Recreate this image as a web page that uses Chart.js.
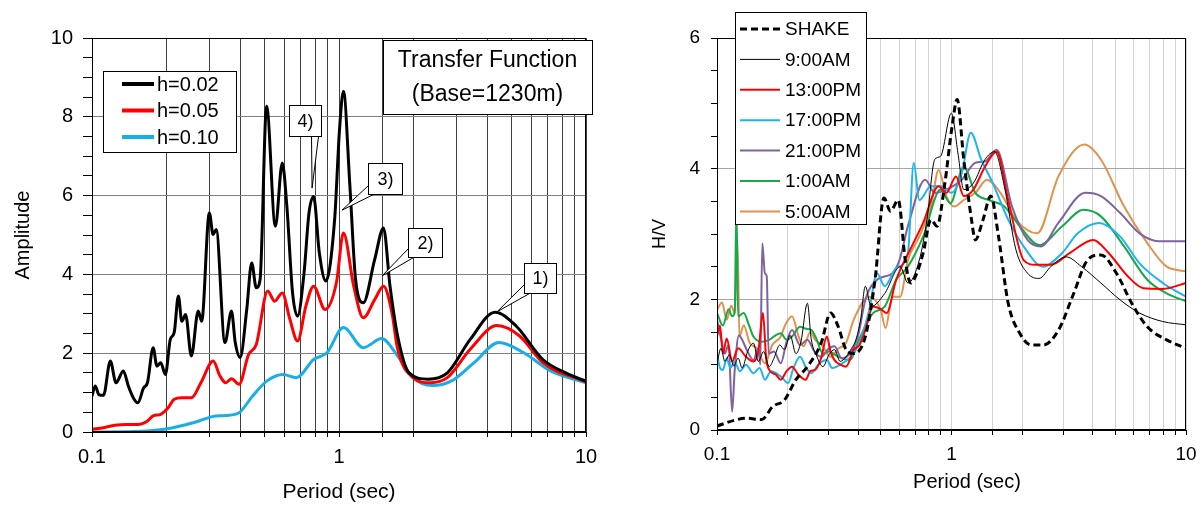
<!DOCTYPE html>
<html>
<head>
<meta charset="utf-8">
<script src="https://cdn.jsdelivr.net/npm/chart.js@4.4.1/dist/chart.umd.min.js"></script>
<style>
  html, body { margin: 0; padding: 0; background: #fff; }
  #wrap { position: relative; width: 1203px; height: 505px; }
  canvas { position: absolute; top: 0; }
  #tf { left: 0; }
  #hv { left: 600px; }
</style>
</head>
<body>
<div id="wrap">
  <canvas id="tf" width="600" height="505"></canvas>
  <canvas id="hv" width="603" height="505"></canvas>
</div>
<script>
// ---- Transfer function (left) ----
const tfPeriod002 = [0.1,0.103,0.1066,0.1113,0.1186,0.1251,0.1339,0.1403,0.1469,0.1533,0.1618,0.1677,0.1768,0.1832,0.1898,0.1982,0.2075,0.2151,0.2237,0.231,0.2393,0.2525,0.2692,0.278,0.2985,0.3093,0.3182,0.3454,0.367,0.3802,0.3982,0.4231,0.4431,0.4624,0.4792,0.5091,0.5527,0.5892,0.615,0.6486,0.6796,0.722,0.756,0.7891,0.8323,0.8844,0.96,1.005,1.042,1.107,1.167,1.254,1.395,1.514,1.609,1.728,1.922,2.297,2.745,3.399,4.284,5.213,6.688,8.28,10];
const tfAmp002 = [0.91,1.17,0.95,0.93,1.80,1.25,1.55,1.17,0.87,0.74,1.12,1.25,2.14,1.67,1.76,1.46,2.35,2.52,3.45,2.81,2.98,1.93,3.07,2.81,5.56,5.01,5.14,2.27,3.07,2.27,1.89,3.11,4.29,3.66,3.87,8.27,5.22,6.83,5.73,3.53,2.94,4.04,5.56,5.98,4.55,3.83,5.39,7.68,8.65,6.24,3.87,3.28,4.38,5.18,3.70,2.43,1.50,1.34,1.50,2.35,3.04,2.69,1.84,1.50,1.29];

const tfPeriod005 = [0.1,0.1113,0.1238,0.1378,0.1533,0.1677,0.1768,0.1898,0.2038,0.2151,0.231,0.2525,0.276,0.3093,0.3298,0.3478,0.367,0.3939,0.4306,0.4624,0.5145,0.5488,0.5892,0.6326,0.6796,0.7349,0.7891,0.8781,0.977,1.042,1.147,1.254,1.395,1.514,1.638,1.728,1.993,2.338,2.745,3.399,4.362,5.40,6.688,10];
const tfAmp005 = [0.07,0.11,0.17,0.19,0.19,0.28,0.41,0.45,0.62,0.83,0.87,0.87,1.25,1.80,1.42,1.25,1.35,1.21,1.97,2.22,3.58,3.32,3.53,2.86,2.31,3.20,3.70,3.11,3.80,5.05,3.70,2.90,3.36,3.70,3.03,2.10,1.38,1.25,1.38,2.10,2.70,2.43,1.76,1.27];

const tfPeriod010 = [0.1,0.148,0.1967,0.2351,0.2711,0.307,0.3478,0.3939,0.4463,0.5145,0.5934,0.6722,0.7891,0.8939,1.042,1.254,1.488,1.728,1.993,2.381,2.844,3.523,4.44,5.598,7.18,10];
const tfAmp010 = [0.0,0.01,0.07,0.17,0.28,0.39,0.42,0.49,0.91,1.31,1.46,1.38,1.84,2.01,2.65,2.14,2.37,1.93,1.38,1.18,1.29,1.76,2.27,2.01,1.55,1.25];

// ---- H/V spectral ratio (right) ----
const hvPeriodShake = [0.1,0.119,0.133,0.155,0.173,0.194,0.217,0.243,0.278,0.305,0.329,0.355,0.383,0.429,0.472,0.515,0.549,0.593,0.635,0.67,0.72,0.757,0.817,0.868,0.933,1.006,1.057,1.128,1.217,1.264,1.363,1.471,1.587,1.745,1.955,2.19,2.46,2.86,3.32,3.80,4.34,5.05,5.87,6.84,8.27,10];
const hvShake = [0.06,0.15,0.18,0.16,0.36,0.46,0.77,0.97,1.33,1.79,1.58,1.23,1.17,1.43,2.30,3.55,3.35,3.52,2.60,2.25,2.45,2.71,3.22,3.12,3.73,4.65,5.06,4.14,3.22,2.91,3.22,3.58,2.96,1.94,1.48,1.30,1.30,1.53,2.09,2.60,2.68,2.40,1.94,1.58,1.38,1.25];

const hvPeriod0900 = [0.1,0.104,0.108,0.113,0.118,0.123,0.128,0.135,0.143,0.15,0.158,0.167,0.175,0.185,0.194,0.205,0.217,0.228,0.243,0.252,0.265,0.283,0.30,0.317,0.335,0.355,0.375,0.391,0.41,0.429,0.454,0.519,0.604,0.652,0.729,0.786,0.848,0.898,0.999,1.065,1.128,1.240,1.389,1.528,1.680,1.882,2.110,2.365,2.651,3.081,3.587,4.336,5.242,6.339,7.960,10];
const hv0900 = [1.02,1.25,1.05,1.15,0.98,1.10,0.95,1.20,1.33,1.05,1.20,0.97,1.10,1.30,1.23,1.45,1.17,1.35,1.94,1.40,1.15,0.97,1.15,1.23,1.05,1.12,1.25,1.38,1.70,2.20,1.89,2.09,2.50,2.25,2.60,3.22,4.14,4.19,4.85,4.24,3.68,3.78,4.14,4.26,3.73,2.76,2.40,2.32,2.50,2.65,2.50,2.25,1.99,1.79,1.66,1.61];

const hvPeriod1300 = [0.1,0.103,0.106,0.11,0.116,0.123,0.133,0.143,0.150,0.157,0.162,0.167,0.178,0.187,0.198,0.209,0.222,0.239,0.25,0.262,0.278,0.294,0.305,0.317,0.335,0.355,0.383,0.405,0.429,0.463,0.50,0.529,0.581,0.677,0.757,0.881,0.951,1.045,1.128,1.240,1.389,1.557,1.745,2.031,2.276,2.651,3.20,4.019,4.678,5.656,6.584,7.960,10];
const hv1300 = [1.43,1.60,1.17,1.40,1.05,1.25,1.12,1.05,1.20,1.79,1.10,0.92,0.85,0.77,0.90,0.97,0.85,0.77,0.90,0.92,1.10,1.43,1.20,1.07,1.00,0.97,1.23,1.30,1.53,1.89,1.85,1.79,2.30,2.81,3.17,3.73,3.63,3.88,3.58,3.68,4.03,4.26,3.52,2.60,2.53,2.53,2.71,2.91,2.71,2.35,2.17,2.16,2.25];

const hvPeriod1700 = [0.1,0.103,0.106,0.11,0.114,0.119,0.125,0.133,0.143,0.152,0.160,0.170,0.187,0.201,0.212,0.226,0.24,0.253,0.27,0.294,0.31,0.342,0.383,0.415,0.446,0.481,0.519,0.581,0.652,0.690,0.729,0.817,0.915,0.999,1.106,1.208,1.338,1.499,1.745,2.031,2.456,2.966,3.453,4.254,5.242,6.339,7.960,10];
const hv1700 = [1.17,0.95,0.92,1.10,0.95,1.05,0.90,1.00,0.87,0.95,0.77,0.90,0.82,0.72,0.95,1.12,0.95,0.87,1.00,1.07,0.95,1.02,1.17,1.45,1.84,2.40,2.20,2.48,2.71,4.09,3.52,3.73,3.73,3.63,3.93,4.55,4.14,3.78,3.22,2.81,2.50,2.71,3.01,3.17,2.96,2.55,2.25,2.04];

const hvPeriod2100 = [0.1,0.104,0.108,0.112,0.116,0.119,0.124,0.128,0.135,0.143,0.150,0.153,0.156,0.160,0.163,0.166,0.175,0.187,0.198,0.209,0.226,0.243,0.26,0.278,0.30,0.317,0.34,0.369,0.40,0.429,0.481,0.56,0.60,0.652,0.772,0.848,0.951,1.106,1.264,1.389,1.557,1.812,2.110,2.410,2.856,3.725,4.336,5.242,6.339,7.664,10];
const hv2100 = [1.69,1.40,1.17,1.30,0.28,0.92,1.45,1.38,1.20,1.07,1.25,1.00,2.86,2.40,2.35,1.17,1.20,1.02,1.35,1.53,1.30,1.38,1.20,1.12,1.25,1.28,1.10,1.17,1.45,1.99,2.30,2.40,2.60,3.12,3.83,3.63,3.68,3.83,4.09,4.11,4.29,3.42,2.91,2.81,3.17,3.63,3.58,3.32,3.01,2.89,2.89];

const hvPeriod0100 = [0.1,0.106,0.112,0.116,0.119,0.121,0.123,0.13,0.137,0.143,0.155,0.167,0.178,0.187,0.198,0.209,0.226,0.24,0.253,0.265,0.283,0.30,0.329,0.369,0.405,0.463,0.519,0.581,0.652,0.757,0.898,0.988,1.128,1.264,1.443,1.680,1.955,2.365,2.966,3.655,4.336,5.445,6.839,8.268,10];
const hv0100 = [1.79,1.60,1.85,1.74,1.80,3.42,1.74,1.79,1.60,1.43,1.35,1.38,1.45,1.48,1.38,1.43,1.58,1.55,1.53,1.40,1.17,1.20,1.12,1.07,1.40,1.79,1.89,2.30,2.50,2.96,3.68,3.47,4.03,3.63,3.52,3.42,3.12,2.83,3.12,3.37,3.27,2.81,2.30,2.09,1.97];

const hvPeriod0500 = [0.1,0.105,0.11,0.115,0.119,0.1225,0.1245,0.13,0.138,0.148,0.160,0.172,0.187,0.195,0.209,0.222,0.234,0.25,0.262,0.28,0.305,0.33,0.355,0.383,0.446,0.499,0.523,0.56,0.604,0.652,0.729,0.817,0.881,0.951,1.026,1.128,1.264,1.416,1.617,1.882,2.320,2.856,3.683,4.336,5.445,6.839,8.268,10];
const hv0500 = [1.84,1.95,1.69,1.90,1.79,2.85,1.43,1.60,1.33,1.25,1.02,1.30,1.43,1.60,1.74,1.45,1.28,1.50,1.38,1.30,1.12,1.25,1.33,1.69,2.04,1.84,1.56,2.04,2.04,2.60,2.96,3.42,3.98,3.58,3.42,3.52,3.63,3.83,3.63,3.22,3.01,3.88,4.37,4.14,3.42,2.86,2.50,2.43];

// callout labels on the transfer function, anchored at (period, amplitude)
const calloutLabels = ["4)", "3)", "2)", "1)"];
const calloutPeriods = [0.778, 1.028, 1.493, 4.36];
const calloutAmps = [6.19, 5.63, 3.96, 3.05];

const FONT = "'Liberation Sans', Arial, sans-serif";
Chart.defaults.font.family = FONT;
Chart.defaults.color = "#000";

function pts(periods, values) {
  return periods.map((t, i) => ({ x: t, y: values[i] }));
}

function isDecade(v) {
  const l = Math.log10(v);
  return Math.abs(l - Math.round(l)) < 1e-6;
}

// frame, legend box, title box and callouts
const decor = {
  id: "decor",
  afterDatasetsDraw(chart) {
    const { ctx, chartArea: a } = chart;
    ctx.save();
    ctx.strokeStyle = "#000";
    ctx.lineWidth = 1;
    ctx.strokeRect(Math.round(a.left) + 0.5, Math.round(a.top) + 0.5,
      Math.round(a.right - a.left) - 1, Math.round(a.bottom - a.top) - 1);
    ctx.restore();
  },
  afterDraw(chart, args, opts) {
    const ctx = chart.ctx;
    const xs = chart.scales.x, ys = chart.scales.y;
    ctx.save();
    ctx.lineWidth = 1;
    ctx.strokeStyle = "#000";

    (opts.callouts || []).forEach((c) => {
      const tx = xs.getPixelForValue(c.period), ty = ys.getPixelForValue(c.amp);
      const bx = Math.round(tx + c.dx - c.w / 2) + 0.5, by = Math.round(ty + c.dy - c.h / 2) + 0.5;
      let b1, b2;
      if (c.side === "bottom") {
        b1 = [bx + c.w - 10, by + c.h];
        b2 = [bx + c.w - 3, by + c.h];
      } else {
        b1 = [bx, by + c.h - 9];
        b2 = [bx + 5, by + c.h];
      }
      ctx.beginPath();
      ctx.moveTo(b1[0], b1[1]);
      ctx.lineTo(tx, ty);
      ctx.lineTo(b2[0], b2[1]);
      ctx.closePath();
      ctx.fillStyle = "#fff";
      ctx.fill();
      ctx.stroke();
      ctx.fillRect(bx, by, c.w, c.h);
      ctx.strokeRect(bx, by, c.w, c.h);
      ctx.fillStyle = "#000";
      ctx.font = "18px " + FONT;
      ctx.textAlign = "center";
      ctx.textBaseline = "middle";
      ctx.fillText(c.text, bx + c.w / 2, by + c.h / 2 + 1);
    });

    const tb = opts.titleBox;
    if (tb) {
      ctx.fillStyle = "#fff";
      ctx.fillRect(tb.x + 0.5, tb.y + 0.5, tb.w, tb.h);
      ctx.strokeRect(tb.x + 0.5, tb.y + 0.5, tb.w, tb.h);
      ctx.fillStyle = "#000";
      ctx.font = tb.size + "px " + FONT;
      ctx.textAlign = "center";
      ctx.textBaseline = "middle";
      tb.lines.forEach((t, i) => ctx.fillText(t, tb.x + tb.w / 2, tb.lineY[i]));
    }

    const lg = opts.legend;
    if (lg) {
      ctx.fillStyle = "#fff";
      ctx.fillRect(lg.x + 0.5, lg.y + 0.5, lg.w, lg.h);
      ctx.strokeStyle = "#000";
      ctx.strokeRect(lg.x + 0.5, lg.y + 0.5, lg.w, lg.h);
      ctx.font = lg.size + "px " + FONT;
      ctx.textAlign = "left";
      ctx.textBaseline = "middle";
      chart.data.datasets.forEach((ds, i) => {
        const y = lg.rowY + i * lg.rowGap;
        ctx.save();
        ctx.strokeStyle = ds.borderColor;
        ctx.lineWidth = lg.lineWidth || ds.borderWidth;
        ctx.setLineDash(ds.borderDash || []);
        ctx.beginPath();
        ctx.moveTo(lg.lineX0, y);
        ctx.lineTo(lg.lineX1, y);
        ctx.stroke();
        ctx.restore();
        ctx.fillStyle = "#000";
        ctx.fillText(ds.label, lg.textX, y + 1);
      });
    }

    (opts.texts || []).forEach((t) => {
      ctx.fillStyle = "#000";
      ctx.font = t.size + "px " + FONT;
      ctx.textAlign = "center";
      ctx.textBaseline = "middle";
      ctx.fillText(t.text, t.x, t.y);
    });
    ctx.restore();
  }
};

const calloutLayout = [
  { dx: -7, dy: -68, w: 32, h: 31, side: "bottom" },
  { dx: 43, dy: -32, w: 34, h: 31, side: "left" },
  { dx: 43, dy: -33, w: 34, h: 29, side: "left" },
  { dx: 43, dy: -34, w: 32, h: 30, side: "left" }
];

// fixed axis box sizes so the plot area matches the original
function fixX(height) {
  return (s) => { s.height = height; s.paddingLeft = 0; s.paddingRight = 0; };
}

new Chart(document.getElementById("tf"), {
  type: "line",
  data: {
    datasets: [
      { label: "h=0.02", data: pts(tfPeriod002, tfAmp002), borderColor: "#000000", borderWidth: 3 },
      { label: "h=0.05", data: pts(tfPeriod005, tfAmp005), borderColor: "#ff0000", borderWidth: 3 },
      { label: "h=0.10", data: pts(tfPeriod010, tfAmp010), borderColor: "#1aaee6", borderWidth: 3 }
    ]
  },
  options: {
    responsive: false,
    animation: false,
    devicePixelRatio: 1,
    layout: { padding: { top: 38, right: 14, left: 0, bottom: 0 } },
    elements: { point: { radius: 0 }, line: { cubicInterpolationMode: "monotone" } },
    plugins: {
      legend: { display: false },
      tooltip: { enabled: false },
      decor: {
        legend: { x: 103, y: 71, w: 133, h: 81, rowY: 84, rowGap: 26.5, lineX0: 122, lineX1: 154, textX: 157, size: 20, lineWidth: 4 },
        titleBox: { x: 383, y: 40, w: 209, h: 74, size: 23, lines: ["Transfer Function", "(Base=1230m)"], lineY: [61, 95] },
        callouts: calloutLabels.map((t, i) => Object.assign({ text: t, period: calloutPeriods[i], amp: calloutAmps[i] }, calloutLayout[i]))
      }
    },
    scales: {
      x: {
        type: "logarithmic",
        min: 0.1,
        max: 10,
        grid: { color: "#404040", tickColor: "#000", tickLength: 5 },
        border: { color: "#000" },
        ticks: {
          autoSkip: false, maxRotation: 0, padding: 8, font: { size: 20 },
          callback: (v) => (isDecade(v) ? String(+v.toFixed(1)) : "")
        },
        title: { display: true, text: "Period (sec)", font: { size: 21 }, padding: { top: 0, bottom: 0 } },
        afterFit: fixX(73)
      },
      y: {
        min: 0,
        max: 10,
        ticks: {
          stepSize: 0.5, autoSkip: false, padding: 10, font: { size: 20 },
          callback: (v) => (v % 2 === 0 ? v : "")
        },
        grid: {
          color: (c) => (c.tick && c.tick.value % 2 === 0 ? "#808080" : "rgba(0,0,0,0)"),
          tickColor: "#000",
          tickLength: 9
        },
        border: { color: "#000" },
        title: { display: true, text: "Amplitude", font: { size: 20 }, padding: { top: 11, bottom: 0 } },
        afterFit: (s) => { s.width = 92; }
      }
    }
  },
  plugins: [decor]
});

new Chart(document.getElementById("hv"), {
  type: "line",
  data: {
    datasets: [
      { label: "SHAKE", data: pts(hvPeriodShake, hvShake), borderColor: "#000000", borderWidth: 3, borderDash: [7, 4] },
      { label: "9:00AM", data: pts(hvPeriod0900, hv0900), borderColor: "#000000", borderWidth: 1 },
      { label: "13:00PM", data: pts(hvPeriod1300, hv1300), borderColor: "#ff0000", borderWidth: 2 },
      { label: "17:00PM", data: pts(hvPeriod1700, hv1700), borderColor: "#1eb4f0", borderWidth: 2 },
      { label: "21:00PM", data: pts(hvPeriod2100, hv2100), borderColor: "#7f62a0", borderWidth: 2 },
      { label: "1:00AM", data: pts(hvPeriod0100, hv0100), borderColor: "#16a84a", borderWidth: 2 },
      { label: "5:00AM", data: pts(hvPeriod0500, hv0500), borderColor: "#e0934c", borderWidth: 2 }
    ]
  },
  options: {
    responsive: false,
    animation: false,
    devicePixelRatio: 1,
    layout: { padding: { top: 38, right: 17, left: 0, bottom: 0 } },
    elements: { point: { radius: 0 }, line: { cubicInterpolationMode: "monotone" } },
    plugins: {
      legend: { display: false },
      tooltip: { enabled: false },
      decor: {
        legend: { x: 135, y: 12, w: 131, h: 212, rowY: 29, rowGap: 30.4, lineX0: 140, lineX1: 180, textX: 185, size: 19 },
        texts: [{ text: "Period (sec)", x: 367, y: 482, size: 20 }]
      }
    },
    scales: {
      x: {
        type: "logarithmic",
        min: 0.1,
        max: 10,
        grid: { color: "#d4d4d4", tickColor: "#000", tickLength: 5 },
        border: { color: "#000" },
        ticks: {
          autoSkip: false, maxRotation: 0, padding: 8, font: { size: 19 },
          callback: (v) => (isDecade(v) ? String(+v.toFixed(1)) : "")
        },
        afterFit: fixX(75)
      },
      y: {
        min: 0,
        max: 6,
        ticks: {
          stepSize: 0.5, autoSkip: false, padding: 11, font: { size: 19 },
          callback: (v) => (v % 2 === 0 ? v : "")
        },
        grid: {
          color: (c) => (c.tick && c.tick.value % 2 === 0 ? "#a6a6a6" : "rgba(0,0,0,0)"),
          tickColor: "#000",
          tickLength: 6
        },
        border: { color: "#000" },
        title: { display: true, text: "H/V", font: { size: 18 }, padding: { top: 49, bottom: 0 } },
        afterFit: (s) => { s.width = 117; }
      }
    }
  },
  plugins: [decor]
});
</script>
</body>
</html>
